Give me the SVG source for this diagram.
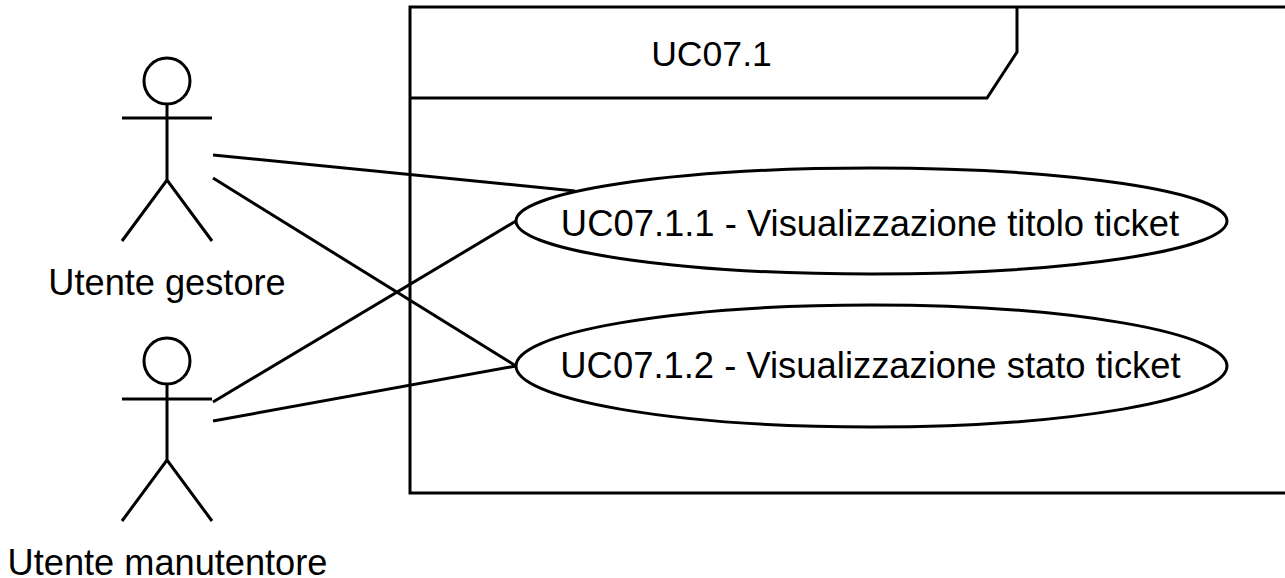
<svg xmlns="http://www.w3.org/2000/svg" width="1285" height="578" viewBox="0 0 1285 578">
<style>
.l{fill:none;stroke:#000;stroke-width:3}
.e{fill:#fff;stroke:#000;stroke-width:3}
text{font-family:"Liberation Sans",Arial,sans-serif;font-size:36.2px;fill:#000;text-anchor:middle}
.u{font-size:36.4px}
</style>
<rect width="1285" height="578" fill="#fff"/>
<g id="frame">
<path class="l" d="M1285 7H410V493H1285"/>
<path class="l" d="M410 98H987L1017 52V7"/>
<text x="711.5" y="66" style="font-size:35.6px">UC07.1</text>
</g>
<g id="connectors">
<path class="l" d="M213 155L575 191"/>
<path class="l" d="M213 178L516 366"/>
<path class="l" d="M213 402L516 221"/>
<path class="l" d="M213 421L516 366"/>
</g>
<g id="uc1">
<ellipse class="e" cx="871.5" cy="221" rx="355.5" ry="53"/>
<text class="u" x="870" y="236">UC07.1.1 - Visualizzazione titolo ticket</text>
</g>
<g id="uc2">
<ellipse class="e" cx="871.5" cy="366" rx="355.5" ry="61"/>
<text class="u" x="870.5" y="378">UC07.1.2 - Visualizzazione stato ticket</text>
</g>
<g id="actor1">
<circle class="l" cx="167" cy="81" r="23"/>
<path class="l" d="M167 104V180M122 118H212M122 241L167 180L212 241"/>
<text x="167" y="295">Utente gestore</text>
</g>
<g id="actor2">
<circle class="l" cx="167" cy="361" r="23"/>
<path class="l" d="M167 384V460M122 399H212M122 521L167 460L212 521"/>
<text x="167.5" y="575">Utente manutentore</text>
</g>
</svg>
